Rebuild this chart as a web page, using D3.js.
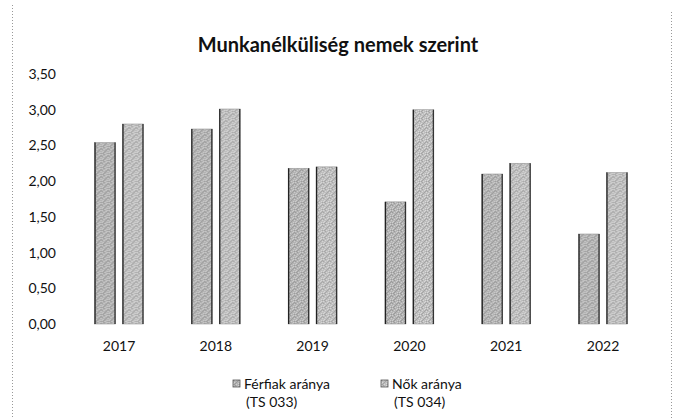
<!DOCTYPE html>
<html><head><meta charset="utf-8">
<script src="https://cdn.jsdelivr.net/npm/d3@7"></script>
<style>body{margin:0;background:#fff}svg{display:block}text{font-family:Lato,"Open Sans",sans-serif;fill:#111}</style>
</head><body>
<svg id="c" width="676" height="419"></svg>
<script>
const years = ["2017","2018","2019","2020","2021","2022"];
const seriesNames = ["Férfiak aránya|(TS 033)","Nők aránya|(TS 034)"];
const male = [2.54, 2.73, 2.18, 1.71, 2.10, 1.26];
const female = [2.80, 3.01, 2.20, 3.00, 2.25, 2.12];
const yTicks = [0,0.5,1,1.5,2,2.5,3,3.5];
const title = "Munkanélküliség nemek szerint";

const svg = d3.select("#c");
const defs = svg.append("defs");
function stipple(id, base, light, dark){
  const p = defs.append("pattern").attr("id",id).attr("width",7).attr("height",7).attr("patternUnits","userSpaceOnUse");
  p.append("rect").attr("width",7).attr("height",7).attr("fill",base);
  [[0,0],[4,1],[2,2],[6,3],[1,4],[5,5],[3,6],[5,0],[0,5]].forEach(([a,b])=>p.append("rect").attr("x",a).attr("y",b).attr("width",1).attr("height",1).attr("fill",light));
  [[2,0],[6,1],[0,2],[4,3],[3,4],[1,6],[6,6],[2,5],[5,2]].forEach(([a,b])=>p.append("rect").attr("x",a).attr("y",b).attr("width",1).attr("height",1).attr("fill",dark));
}
stipple("pm","#b3b3b3","#cfcfcf","#999999");
stipple("pf","#bebebe","#d9d9d9","#a3a3a3");
const fills = ["url(#pm)","url(#pf)"];

const x0 = d3.scaleBand().domain(years).range([70.6,651.4]).paddingInner(0.495).paddingOuter(0.2475);
const x1 = d3.scaleBand().domain([0,1]).range([0,x0.bandwidth()]).paddingInner(0.25);
const y = d3.scaleLinear().domain([0,3.5]).range([324,74]);

// frame
svg.append("line").attr("x1",12.5).attr("x2",12.5).attr("y1",5).attr("y2",419).attr("stroke","#999").attr("stroke-dasharray","1,2");
svg.append("line").attr("x1",671.5).attr("x2",671.5).attr("y1",12).attr("y2",419).attr("stroke","#999").attr("stroke-dasharray","1,2");

svg.append("text").attr("x",338).attr("y",52).attr("text-anchor","middle").attr("font-size",20).attr("font-weight","bold").text(title);

// y axis
const yAxis = d3.axisLeft(y).tickValues(yTicks).tickSize(0).tickPadding(0).tickFormat(d=>d3.format(".2f")(d).replace(".",","));
const ya = svg.append("g").attr("transform","translate(56,0)").call(yAxis);
ya.select(".domain").remove();
ya.selectAll("text").attr("font-size",14).attr("font-family","Lato, sans-serif").attr("fill","#111");

// x axis
const xAxis = d3.axisBottom(x0).tickSize(0).tickPadding(0);
const xa = svg.append("g").attr("transform","translate(0,341)").call(xAxis);
xa.select(".domain").remove();
xa.selectAll("text").attr("font-size",14).attr("font-family","Lato, sans-serif").attr("fill","#111");

const data = years.map((yr,i)=>({yr, vals:[male[i],female[i]]}));
const g = svg.append("g").selectAll("g").data(data).join("g").attr("transform",d=>`translate(${x0(d.yr)},0)`);
g.each(function(d){
  const sel = d3.select(this);
  d.vals.forEach((v,k)=>{
    const bx = x1(k), bw = x1.bandwidth(), top = y(v), h = y(0)-y(v);
    sel.append("rect").attr("x",bx).attr("y",top).attr("width",bw).attr("height",h).attr("fill",fills[k]).attr("stroke","#999").attr("stroke-width",0.6);
    sel.append("line").attr("x1",bx+0.5).attr("x2",bx+0.5).attr("y1",top).attr("y2",y(0)).attr("stroke","#222").attr("stroke-width",1.3);
    sel.append("line").attr("x1",bx+bw-0.5).attr("x2",bx+bw-0.5).attr("y1",top).attr("y2",y(0)).attr("stroke","#333").attr("stroke-width",1.3);
  });
});

// legend
const legX = [233, 381];
seriesNames.forEach((s,k)=>{
  const parts = s.split("|");
  const lg = svg.append("g").attr("transform",`translate(${legX[k]},0)`);
  lg.append("rect").attr("x",0).attr("y",380).attr("width",7).attr("height",7).attr("fill",fills[k]).attr("stroke","#555").attr("stroke-width",0.8);
  lg.append("text").attr("x",11).attr("y",389).attr("font-size",14).text(parts[0]);
  lg.append("text").attr("x",13).attr("y",407).attr("font-size",14).text(parts[1]);
});
</script>
</body></html>
